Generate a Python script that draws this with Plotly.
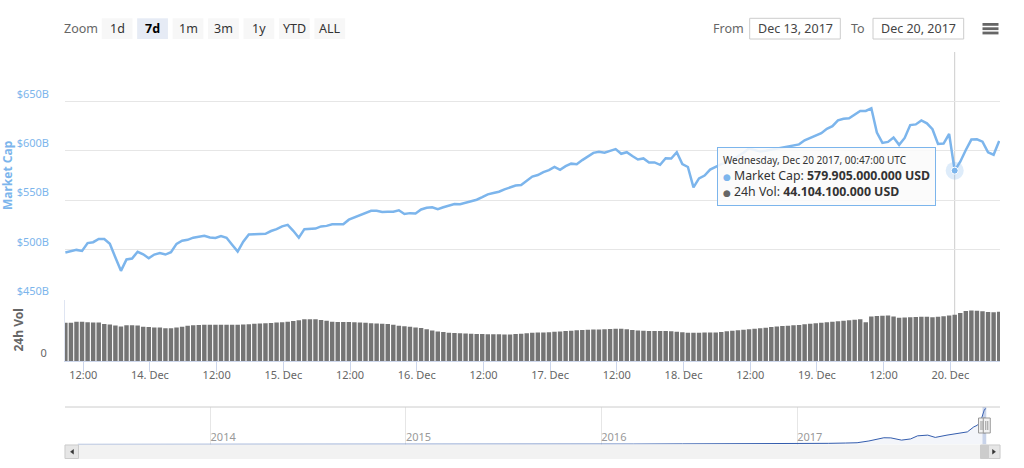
import plotly.graph_objects as go
import pandas as pd

# ---------------- data ----------------
start_time = "2017-12-13 08:47"
times = pd.date_range(start_time, periods=169, freq="h")

mcap = [
    497.0, 498.0, 499.7, 498.6, 506.6, 507.5, 510.8, 510.7, 505.8, 492.0,
    478.5, 490.0, 491.0, 497.8, 495.2, 491.3, 495.0, 496.5, 495.0, 497.4,
    505.8, 509.0, 509.9, 512.1, 512.9, 514.0, 512.2, 511.8, 513.6, 512.0,
    504.9, 498.0, 508.0, 515.3, 515.5, 516.0, 516.0, 518.8, 520.7, 523.5,
    525.0, 519.0, 512.0, 520.7, 521.2, 521.3, 523.5, 524.0, 525.6, 525.8,
    525.7, 530.3, 532.7, 534.4, 537.1, 539.3, 539.2, 538.0, 538.3, 538.3,
    539.8, 536.0, 536.9, 536.6, 540.6, 542.4, 542.8, 541.0, 542.9, 544.5,
    546.1, 546.0, 547.7, 549.0, 550.5, 553.1, 555.9, 557.3, 558.6, 561.0,
    563.2, 564.8, 565.4, 570.0, 573.9, 575.5, 578.5, 580.5, 583.7, 580.7,
    584.4, 587.0, 586.4, 590.6, 594.4, 597.9, 599.0, 598.0, 599.9, 601.7,
    597.0, 598.6, 594.7, 591.2, 592.3, 588.2, 588.2, 585.8, 592.4, 592.2,
    598.6, 586.5, 583.6, 563.0, 572.0, 575.0, 581.0, 583.8, 586.5, 588.0,
    590.5, 594.5, 598.0, 602.5, 601.0, 599.2, 600.0, 601.0, 602.0, 603.0,
    604.5, 605.3, 606.5, 610.6, 612.8, 615.6, 617.8, 622.2, 624.9, 630.8,
    632.5, 633.0, 637.0, 640.3, 640.3, 643.0, 618.5, 608.0, 609.0, 613.4,
    606.0, 613.0, 626.0, 626.7, 630.8, 627.8, 621.8, 607.0, 607.3, 617.0,
    579.905, 589.0, 600.8, 611.4, 611.6, 609.3, 598.5, 596.0, 610.0,
]

vol = [
    36.5, 36.6, 37.5, 37.6, 37.1, 36.9, 36.9, 35.4, 35.0, 34.0,
    33.0, 34.3, 34.2, 34.0, 32.8, 32.5, 32.1, 32.0, 31.4, 31.4,
    32.0, 32.8, 33.8, 34.3, 34.5, 34.6, 34.6, 34.6, 34.6, 34.6,
    34.6, 34.6, 34.8, 35.2, 35.5, 35.9, 36.1, 36.4, 36.7, 37.0,
    37.6, 38.3, 39.0, 40.0, 40.0, 39.8, 39.3, 38.6, 37.6, 37.2,
    37.3, 37.4, 37.1, 36.8, 36.5, 36.2, 35.9, 35.6, 35.3, 34.6,
    33.7, 33.2, 32.7, 32.1, 31.5, 30.4, 29.1, 28.3, 27.7, 27.1,
    26.8, 26.5, 26.2, 26.0, 25.8, 25.7, 25.6, 25.5, 25.5, 25.4,
    25.4, 25.8, 26.1, 26.5, 26.9, 27.2, 27.3, 27.6, 27.9, 28.3,
    28.6, 29.0, 29.3, 29.6, 29.8, 30.0, 30.2, 30.4, 30.6, 30.8,
    30.8, 30.3, 29.7, 29.1, 28.9, 28.8, 28.8, 28.7, 28.6, 28.5,
    28.0, 27.5, 27.1, 27.0, 27.1, 27.2, 27.2, 27.3, 27.8, 28.4,
    28.9, 29.4, 29.8, 30.3, 30.9, 31.4, 31.9, 32.5, 32.9, 33.4,
    33.7, 34.1, 34.5, 35.1, 35.6, 36.1, 36.5, 37.1, 37.5, 38.0,
    38.5, 39.0, 39.4, 39.8, 37.0, 42.5, 43.0, 43.2, 43.4, 42.5,
    41.4, 41.6, 41.8, 42.0, 42.2, 42.2, 41.8, 42.2, 42.8, 43.4,
    44.1041, 46.0, 47.9, 48.2, 48.0, 47.6, 46.9, 46.6, 47.0,
]

nav_dates = [
    "2013-04-28", "2013-06-01", "2013-08-01", "2013-10-01", "2013-11-15", "2013-12-01",
    "2014-01-01", "2014-03-01", "2014-06-01", "2014-09-01", "2014-12-01",
    "2015-03-01", "2015-06-01", "2015-09-01", "2015-12-01",
    "2016-03-01", "2016-06-01", "2016-09-01", "2016-12-01",
    "2017-01-01", "2017-02-01", "2017-03-01", "2017-04-01", "2017-04-23", "2017-05-15",
    "2017-06-03", "2017-06-12", "2017-06-25", "2017-07-15", "2017-08-01", "2017-08-14",
    "2017-09-02", "2017-09-16", "2017-10-08", "2017-10-20", "2017-11-08", "2017-11-15",
    "2017-11-27", "2017-12-04", "2017-12-10", "2017-12-13", "2017-12-17", "2017-12-20",
]
nav_mcap = [
    1.5, 1.3, 1.2, 1.6, 5.5, 13.0,
    10.0, 7.8, 8.5, 6.6, 5.0,
    4.0, 3.9, 3.9, 6.5,
    7.0, 10.5, 11.0, 12.5,
    17.5, 17.0, 20.0, 25.0, 30.0, 60.0,
    92.0, 115.0, 113.0, 75.0, 95.0, 148.0,
    160.0, 121.0, 160.0, 180.0, 200.0, 215.0,
    300.0, 330.0, 400.0, 497.0, 600.0, 612.0,
]

x_tick_vals = [
    "2017-12-13 12:00", "2017-12-14 00:00", "2017-12-14 12:00", "2017-12-15 00:00",
    "2017-12-15 12:00", "2017-12-16 00:00", "2017-12-16 12:00", "2017-12-17 00:00",
    "2017-12-17 12:00", "2017-12-18 00:00", "2017-12-18 12:00", "2017-12-19 00:00",
    "2017-12-19 12:00", "2017-12-20 00:00",
]
x_tick_text = [
    "12:00", "14. Dec", "12:00", "15. Dec", "12:00", "16. Dec", "12:00",
    "17. Dec", "12:00", "18. Dec", "12:00", "19. Dec", "12:00", "20. Dec",
]
y_tick_vals = [450, 500, 550, 600, 650, 700]
y_tick_text = ["$450B", "$500B", "$550B", "$600B", "$650B", ""]
nav_tick_vals = ["2014-01-01", "2015-01-01", "2016-01-01", "2017-01-01"]
nav_tick_text = ["2014", "2015", "2016", "2017"]
zoom_buttons = ["1d", "7d", "1m", "3m", "1y", "YTD", "ALL"]
selected_button = "7d"
hover_index = 160

# ---------------- layout helpers ----------------
W, H = 1024, 468


def px(x):
    return x / W


def py(y):
    return 1 - y / H


FONT = "Noto Sans, DejaVu Sans, sans-serif"
LINE_BLUE = "#7cb5ec"

fig = go.Figure()

fig.add_trace(go.Scatter(
    x=times, y=mcap, mode="lines", xaxis="x", yaxis="y",
    line=dict(color=LINE_BLUE, width=2.5), hoverinfo="skip", showlegend=False,
))
fig.add_trace(go.Bar(
    x=times, y=vol, xaxis="x", yaxis="y2",
    marker=dict(color="#747474", line=dict(width=0)), hoverinfo="skip", showlegend=False,
))
fig.add_trace(go.Scatter(
    x=nav_dates, y=nav_mcap, mode="lines", xaxis="x2", yaxis="y3",
    line=dict(color="#335cad", width=1), fill="tozeroy",
    fillcolor="rgba(51,92,173,0.06)", hoverinfo="skip", showlegend=False,
))
ht = times[hover_index]
fig.add_trace(go.Scatter(
    x=[ht], y=[mcap[hover_index]], mode="markers", xaxis="x", yaxis="y",
    marker=dict(size=18, color="rgba(124,181,236,0.25)"), hoverinfo="skip", showlegend=False,
))
fig.add_trace(go.Scatter(
    x=[ht], y=[mcap[hover_index]], mode="markers", xaxis="x", yaxis="y",
    marker=dict(size=7, color=LINE_BLUE, line=dict(color="#ffffff", width=1)),
    hoverinfo="skip", showlegend=False,
))

x_range = [times[0] - pd.Timedelta(minutes=4), times[-1] + pd.Timedelta(minutes=9)]

shapes = []
annotations = []


def label(x, y, text, size=12.5, color="#333333", **kw):
    d = dict(xref="paper", yref="paper", x=px(x), y=py(y), text=text, showarrow=False,
             xanchor="center", yanchor="middle", font=dict(size=size, color=color))
    d.update(kw)
    annotations.append(d)


# crosshair
shapes.append(dict(type="line", xref="x", yref="paper", x0=ht, x1=ht,
                   y0=py(361), y1=py(52), line=dict(color="#cccccc", width=1), layer="below"))

# navigator outline, mask and handles
shapes.append(dict(type="line", xref="paper", yref="paper", x0=px(65), x1=px(1000),
                   y0=py(407), y1=py(407), line=dict(color="#cccccc", width=1)))
shapes.append(dict(type="rect", xref="x2", yref="paper", x0=times[0], x1=times[-1],
                   y0=py(444.5), y1=py(407), fillcolor="rgba(102,133,194,0.3)",
                   line=dict(width=0)))
for anchor, (a, b) in ((times[0], (-4, 3)), (times[-1], (-3, 4))):
    shapes.append(dict(type="rect", xref="x2", yref="paper", xsizemode="pixel",
                       xanchor=anchor, x0=a, x1=b, y0=py(433), y1=py(418),
                       fillcolor="#f2f2f2", line=dict(color="#999999", width=1)))
    for off in (a + 2.5, a + 4.5):
        shapes.append(dict(type="line", xref="x2", yref="paper", xsizemode="pixel",
                           xanchor=anchor, x0=off, x1=off, y0=py(430), y1=py(421),
                           line=dict(color="#999999", width=1)))

# scrollbar
shapes.append(dict(type="rect", xref="paper", yref="paper", x0=px(65), x1=px(1000),
                   y0=py(458.5), y1=py(445), fillcolor="#f2f2f2", line=dict(color="#f2f2f2", width=1)))
shapes.append(dict(type="rect", xref="paper", yref="paper", x0=px(65), x1=px(78.5),
                   y0=py(458.5), y1=py(445), fillcolor="#e6e6e6", line=dict(color="#cccccc", width=1)))
shapes.append(dict(type="rect", xref="paper", yref="paper", x0=px(980.5), x1=px(988.5),
                   y0=py(458.5), y1=py(445), fillcolor="#cccccc", line=dict(color="#cccccc", width=1)))
shapes.append(dict(type="rect", xref="paper", yref="paper", x0=px(988.5), x1=px(1000),
                   y0=py(458.5), y1=py(445), fillcolor="#e6e6e6", line=dict(color="#cccccc", width=1)))


def tri(points):
    d = "M " + " L ".join(f"{px(x)},{py(y)}" for x, y in points) + " Z"
    return dict(type="path", xref="paper", yref="paper", path=d,
                fillcolor="#333333", line=dict(color="#333333", width=0.5))


shapes.append(tri([(70.5, 451.8), (73.5, 449.5), (73.5, 454.1)]))
shapes.append(tri([(995.5, 451.8), (992.5, 449.5), (992.5, 454.1)]))

# range selector
label(81, 28.5, "Zoom", color="#666666")
for i, lab in enumerate(zoom_buttons):
    x0 = 101.7 + i * 35.45
    sel = lab == selected_button
    shapes.append(dict(type="rect", xref="paper", yref="paper", x0=px(x0), x1=px(x0 + 30.8),
                       y0=py(39), y1=py(18.3), fillcolor="#e6ebf5" if sel else "#f7f7f7",
                       line=dict(width=0)))
    label(x0 + 15.4, 28.5, f"<b>{lab}</b>" if sel else lab,
          color="#000000" if sel else "#333333")

# from / to inputs
fmt_date = lambda t: t.strftime("%b %d, %Y")
label(728, 28.5, "From", color="#666666")
label(858.3, 28.5, "To", color="#666666")
for (bx0, bx1), t in (((749.7, 840.3), times[0]), ((873, 963.7), times[-1])):
    shapes.append(dict(type="rect", xref="paper", yref="paper", x0=px(bx0), x1=px(bx1),
                       y0=py(39), y1=py(18.3), fillcolor="#ffffff",
                       line=dict(color="#cccccc", width=1)))
    label((bx0 + bx1) / 2, 28.5, fmt_date(t), color="#444444")

# hamburger icon
for yy in (23, 27.3, 31.6):
    shapes.append(dict(type="rect", xref="paper", yref="paper", x0=px(982.5), x1=px(998.5),
                       y0=py(yy + 2.8), y1=py(yy), fillcolor="#666666", line=dict(width=0)))

# axis titles
label(7.5, 175.5, "<b>Market Cap</b>", size=12, color=LINE_BLUE, textangle=-90)
label(17.5, 330, "<b>24h Vol</b>", size=12, color="#666666", textangle=-90)

# tooltip
fmt_usd = lambda v: f"{round(v * 1e9):,}".replace(",", ".")
tip = (
    f'<span style="font-size:10px">{ht.strftime("%A, %b %d %Y, %H:%M:%S")} UTC</span><br>'
    f'<span style="color:{LINE_BLUE};font-size:9px">\u25CF</span> Market Cap: '
    f'<b>{fmt_usd(mcap[hover_index])} USD</b><br>'
    f'<span style="color:#666666;font-size:9px">\u25CF</span> 24h Vol: '
    f'<b>{fmt_usd(vol[hover_index])} USD</b>'
)
annotations.append(dict(xref="paper", yref="paper", x=px(717), y=py(147), xanchor="left",
                        yanchor="top", text=tip, showarrow=False, align="left",
                        bgcolor="rgba(250,250,250,0.88)", bordercolor=LINE_BLUE, borderwidth=1,
                        borderpad=5, font=dict(size=12.3, color="#333333")))

dom_x = [px(65), px(1000)]
fig.update_layout(
    width=W, height=H, autosize=False,
    margin=dict(l=0, r=0, t=0, b=0),
    paper_bgcolor="#ffffff", plot_bgcolor="rgba(0,0,0,0)",
    font=dict(family=FONT, size=11, color="#666666"),
    showlegend=False, bargap=0.2, hovermode=False,
    xaxis=dict(domain=dom_x, anchor="y2", range=x_range, type="date",
               tickmode="array", tickvals=x_tick_vals, ticktext=x_tick_text,
               ticks="outside", ticklen=10, tickcolor="#ccd6eb", showgrid=False,
               showline=True, linecolor="#ccd6eb", zeroline=False,
               tickfont=dict(size=11, color="#666666"), ticklabelstandoff=-6),
    yaxis=dict(domain=[py(299), py(52)], anchor="x", range=[450, 700],
               tickmode="array", tickvals=y_tick_vals, ticktext=y_tick_text,
               ticklabelposition="outside top", gridcolor="#e6e6e6", gridwidth=1,
               showline=False, zeroline=False, ticks="", ticklabelstandoff=15,
               tickfont=dict(size=11, color=LINE_BLUE)),
    yaxis2=dict(domain=[py(361), py(299.5)], anchor="x", range=[0, 58.8],
                tickmode="array", tickvals=[0], ticktext=["0"],
                ticklabelposition="outside top", showgrid=False, zeroline=False,
                showline=True, linecolor="#dfe5f2", ticks="", ticklabelstandoff=15,
                tickfont=dict(size=11, color="#666666")),
    xaxis2=dict(domain=dom_x, anchor="y3", range=["2013-04-04", "2018-01-15"], type="date",
                tickmode="array", tickvals=nav_tick_vals, ticktext=nav_tick_text,
                ticklabelposition="inside right", showgrid=True, gridcolor="#e6e6e6",
                ticks="", showline=False, zeroline=False, ticklabelstandoff=-5,
                tickfont=dict(size=11, color="#999999")),
    yaxis3=dict(domain=[py(444.5), py(407)], anchor="x2", range=[0, 640], visible=False),
    shapes=shapes, annotations=annotations,
)

fig.write_html("out.html", config={"displayModeBar": False},
               post_script="document.body.style.margin='0';")
